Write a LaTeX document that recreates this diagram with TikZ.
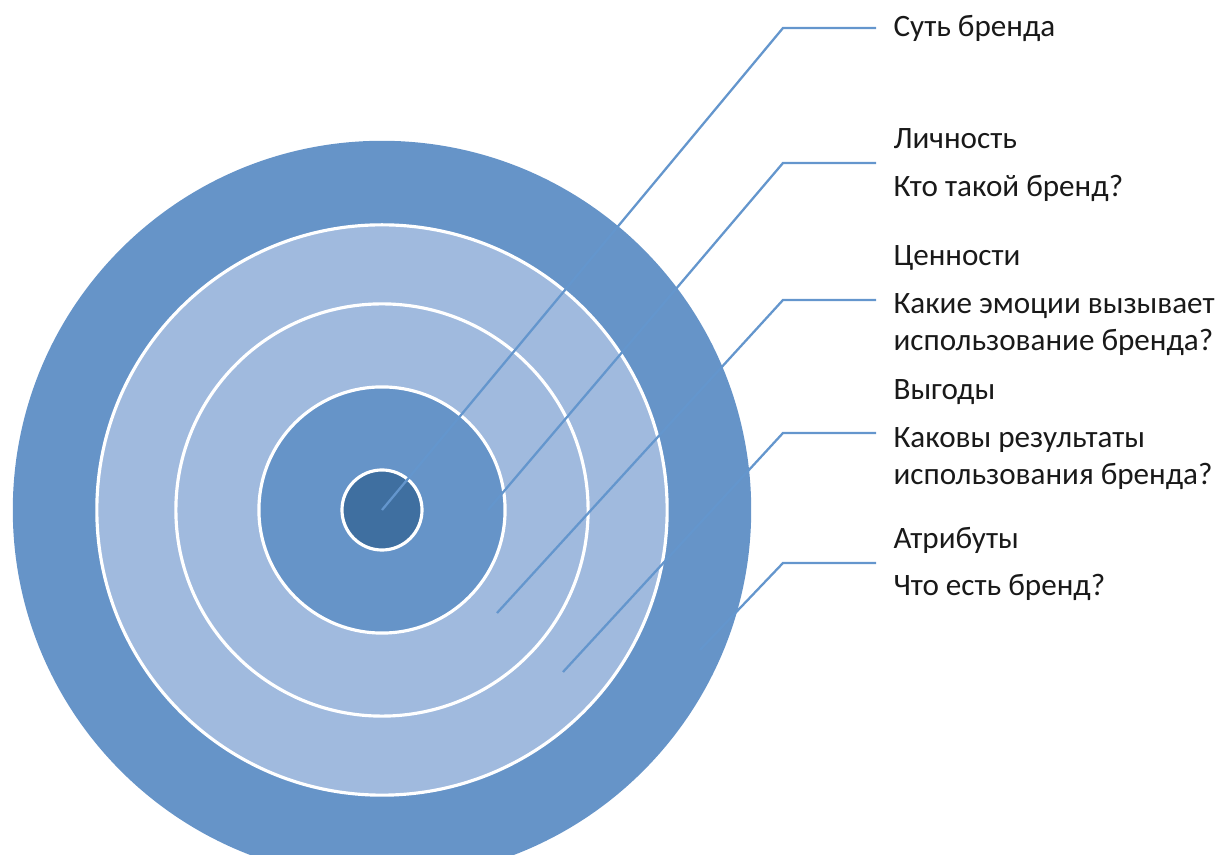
\documentclass[tikz,border=0pt]{standalone}
\usepackage{fontspec}
\setmainfont{Carlito}
\usepackage{xcolor}
\definecolor{bwmid}{HTML}{6694C8}
\definecolor{bwlight}{HTML}{A0BADE}
\definecolor{bwdark}{HTML}{3F6FA0}
\definecolor{bwlinec}{HTML}{6496CD}
\tikzset{
  bwring/.style  = {circle, draw=white, line width=0.9pt, inner sep=0pt},
  bwlbl/.style   = {anchor=west, align=left, inner xsep=4.8pt, inner ysep=0pt,
                    font=\fontsize{8.85}{10.6}\selectfont, text=black!90},
  bwlink/.style  = {draw=bwlinec, line width=0.65pt}
}

\begin{document}
\begin{tikzpicture}[x=0.01cm, y=-0.01cm]
  \clip (0,0) rectangle (1223,855);

  \coordinate (ctr) at (382,510);
  \node[bwring, draw=none, fill=bwmid, minimum size=7.38cm] (attr) at (ctr) {};
  \node[bwring, fill=bwlight, minimum size=5.70cm]          (bene) at (ctr) {};
  \node[bwring, fill=bwlight, minimum size=4.12cm]          (valu) at (ctr) {};
  \node[bwring, fill=bwmid,   minimum size=2.46cm]          (pers) at (ctr) {};
  \node[bwring, fill=bwdark,  minimum size=0.80cm]          (core) at (ctr) {};

  % start points inside the rings and elbows
  \coordinate (s2) at (488,510);
  \coordinate (s3) at (497,613);
  \coordinate (s4) at (563,672);
  \coordinate (s5) at (700,650);
  \coordinate (e1) at (783,28);
  \coordinate (e2) at (783,163);
  \coordinate (e3) at (783,300);
  \coordinate (e4) at (783,433);
  \coordinate (e5) at (783,563);

  \node[bwlbl] (t1) at (876,28)  {Суть бренда};
  \node[bwlbl] (t2) at (876,165) {Личность\\[3pt]Кто такой бренд?};
  \node[bwlbl] (t3) at (876,301)
        {Ценности\\[3pt]Какие эмоции вызывает\\использование бренда?};
  \node[bwlbl] (t4) at (876,435)
        {Выгоды\\[3pt]Каковы результаты\\использования бренда?};
  \node[bwlbl] (t5) at (876,564) {Атрибуты\\[3pt]Что есть бренд?};

  \draw[bwlink] (ctr) -- (e1) -- (t1.west |- e1);
  \draw[bwlink] (s2)  -- (e2) -- (t2.west |- e2);
  \draw[bwlink] (s3)  -- (e3) -- (t3.west |- e3);
  \draw[bwlink] (s4)  -- (e4) -- (t4.west |- e4);
  \draw[bwlink] (s5)  -- (e5) -- (t5.west |- e5);
\end{tikzpicture}
\end{document}
